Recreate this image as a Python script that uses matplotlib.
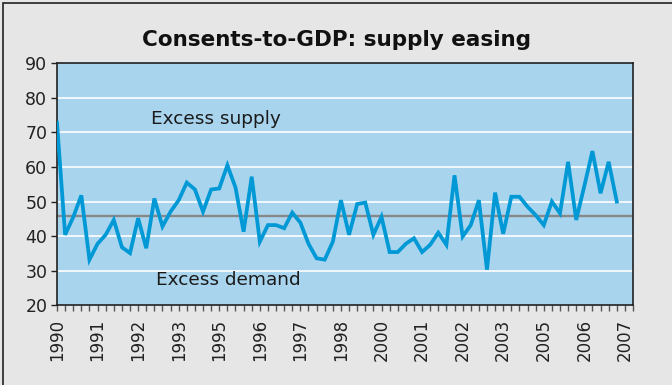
import matplotlib.pyplot as plt
from matplotlib.patches import Rectangle

# quarterly ratio, 1990 Q1 onwards
ratio = [72.8, 40.4, 45.5, 51.8, 33.2, 37.8, 40.4, 44.7, 36.8, 35.1,
         45.2, 36.5, 50.9, 42.8, 47.1, 50.4, 55.5, 53.5, 47.1, 53.5,
         53.8, 60.5, 54.1, 41.3, 57.2, 38.4, 43.2, 43.2, 42.3, 46.8,
         43.9, 37.8, 33.6, 33.2, 38.4, 50.4, 40.4, 49.3, 49.7, 40.4,
         45.6, 35.4, 35.4, 37.8, 39.4, 35.4, 37.5, 41.0, 37.5, 57.6,
         39.9, 43.2, 50.4, 30.3, 52.6, 40.7, 51.4, 51.4, 48.5, 46.1,
         43.2, 50.0, 46.6, 61.5, 44.7, 54.5, 64.6, 52.4, 61.5, 50.0]
avg_level = 45.8
n_quarters = 72
label_years = ['1990', '1991', '1992', '1993', '1995', '1996', '1997', '1998',
               '2000', '2001', '2002', '2003', '2005', '2006', '2007']

plt.rcParams['font.family'] = 'DejaVu Sans'

fig = plt.figure(figsize=(6.72, 3.85), dpi=100, facecolor='#e6e6e6')
ax = fig.add_axes([57 / 672, 1 - 305.3 / 385, 576 / 672, 242 / 385])
ax.set_facecolor('#a8d4ee')

# outer frame of the chart area
fig.patches.append(Rectangle((3 / 672, -0.1), 1.2, 1.1 - 3 / 385,
                             transform=fig.transFigure, fill=False,
                             edgecolor='#222222', linewidth=1.2))

for v in range(30, 90, 10):
    ax.axhline(v, color='white', linewidth=1.2, zorder=1)
ax.axhline(avg_level, color='#888888', linewidth=1.7, zorder=2)

ax.plot(range(len(ratio)), ratio, color='#0099d6', linewidth=2.7,
        solid_joinstyle='miter', zorder=3)

ax.set_xlim(0, n_quarters - 1)
ax.set_ylim(20, 90)
ax.set_yticks(range(20, 91, 10))
ax.set_xticks(range(0, n_quarters), minor=True)
ax.set_xticks(range(0, 5 * len(label_years), 5))
ax.set_xticklabels(label_years, rotation=90)

ax.tick_params(axis='y', labelsize=12.5, length=4, width=1, pad=3,
               colors='#222222')
ax.tick_params(axis='x', which='both', length=4, width=1, color='#555555',
               labelsize=12, pad=6, labelcolor='#222222')
for s in ax.spines.values():
    s.set_color('#222222')
    s.set_linewidth(1.2)

ax.text(11.6, 74, 'Excess supply', fontsize=13.3, va='center', color='#1a1a1a')
ax.text(12.2, 27.3, 'Excess demand', fontsize=13.3, va='center', color='#1a1a1a')

fig.text(337 / 672, 1 - 40 / 385, 'Consents-to-GDP: supply easing',
         ha='center', va='center', fontsize=15.5, fontweight='bold',
         color='#111111')

fig.savefig('out.png', dpi=100, facecolor=fig.get_facecolor())
